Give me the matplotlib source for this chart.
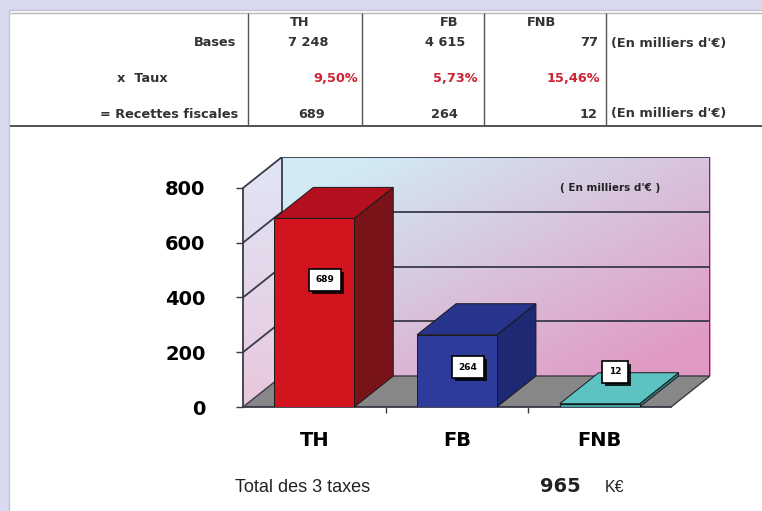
import numpy as np
import matplotlib
matplotlib.use("Agg")
import matplotlib.pyplot as plt
import matplotlib.patheffects as pe
from matplotlib.patches import Polygon, Rectangle

# data
taxes = ["TH", "FB", "FNB"]
bases = [7248, 4615, 77]            # en milliers d'euros
taux = [9.50, 5.73, 15.46]          # %
recettes = [689, 264, 12]           # en milliers d'euros
yticks = [0, 200, 400, 600, 800]

# styles
front_cols = ["#d2141f", "#2d3c9b", "#3aa2a2"]
top_cols = ["#b40f1e", "#28348c", "#5cc2c2"]
side_cols = ["#781419", "#1e2873", "#2f8080"]
label_pos = [(0.575, 464), (1.577, 146), (2.607, 128)]
grid_col = "#3a3a48"

fig = plt.figure(figsize=(7.62, 5.11), dpi=100)
fig.patch.set_facecolor("#d9d9ef")

# background axes in pixel coords (panel + table)
bg = fig.add_axes([0, 0, 1, 1])
bg.set_xlim(0, 762)
bg.set_ylim(511, 0)
bg.axis("off")
bg.add_patch(Rectangle((9, 10), 760, 510, fc="white", ec="#c4c4d4", lw=1))

bg.hlines(13, 10, 762, color="#b8b8b8", lw=1)
bg.hlines(126, 10, 762, color="#444444", lw=1.3)
bg.vlines([248, 362, 484, 606], 13, 126, color="#555555", lw=1)

tkw = dict(fontsize=9.3, fontweight="bold", color="#333333", va="center",
           family="DejaVu Sans")
rows_y = [22, 43, 79, 114]
bg.text(236, rows_y[1], "Bases", ha="right", **tkw)
bg.text(142, rows_y[2], "x  Taux", ha="center", **tkw)
bg.text(238, rows_y[3], "= Recettes fiscales", ha="right", **tkw)
bg.text(611, rows_y[1], "(En milliers d'€)", ha="left", **tkw)
bg.text(611, rows_y[3], "(En milliers d'€)", ha="left", **tkw)

head_x = [290, 440, 527]
base_x = [328, 465, 598]
taux_x = [358, 478, 600]
rec_x = [325, 458, 598]
for i, t in enumerate(taxes):
    bg.text(head_x[i], rows_y[0], t, ha="left", **tkw)
    bg.text(base_x[i], rows_y[1], f"{bases[i]:,}".replace(",", " "), ha="right", **tkw)
    kw = dict(tkw)
    kw["color"] = "#cc2233"
    bg.text(taux_x[i], rows_y[2], f"{taux[i]:.2f}%".replace(".", ","), ha="right", **kw)
    bg.text(rec_x[i], rows_y[3], str(recettes[i]), ha="right", **tkw)

# 3D-looking bar chart
dx, dy = 0.273, 113.2
ax = fig.add_axes([243 / 762, 104 / 511, 467 / 762, 250 / 511])
ax.set_xlim(0, 3 + dx)
ax.set_ylim(0, 800 + dy)
ax.patch.set_alpha(0)

# back wall gradient
n = 60
gx, gy = np.meshgrid(np.linspace(0, 1, n), np.linspace(1, 0, n))
t = np.clip(0.6 * gx + 0.6 * (1 - gy) - 0.12, 0, 1)[..., None]
c0 = np.array([0.82, 0.92, 0.96])
c1 = np.array([0.88, 0.60, 0.76])
ax.imshow(c0 * (1 - t) + c1 * t, extent=(dx, 3 + dx, dy, 800 + dy),
          aspect="auto", zorder=0)

# left wall gradient
lw_poly = Polygon([(0, 0), (0, 800), (dx, 800 + dy), (dx, dy)], closed=True,
                  fc="none", ec="none")
ax.add_patch(lw_poly)
t2 = np.clip(1 - gy, 0, 1)[..., None]
im2 = ax.imshow(np.array([0.88, 0.90, 0.96]) * (1 - t2) + np.array([0.91, 0.78, 0.87]) * t2,
                extent=(0, dx, 0, 800 + dy), aspect="auto", zorder=0)
im2.set_clip_path(lw_poly)

# floor
ax.add_patch(Polygon([(0, 0), (3, 0), (3 + dx, dy), (dx, dy)], closed=True,
                     fc="#878787", ec=grid_col, lw=1, zorder=1))

# gridlines on walls
for v in yticks[1:]:
    ax.plot([dx, 3 + dx], [v + dy, v + dy], color=grid_col, lw=1.3, zorder=1)
    ax.plot([0, dx], [v, v + dy], color=grid_col, lw=1.3, zorder=1)
ax.plot([dx, dx], [dy, 800 + dy], color=grid_col, lw=1.3, zorder=1)
ax.plot([3 + dx, 3 + dx], [dy, 800 + dy], color=grid_col, lw=1.3, zorder=1)

# bars
w = 0.56
for i, v in enumerate(recettes):
    c = i + 0.5
    x0, x1 = c - w / 2, c + w / 2
    ax.add_patch(Polygon([(x1, 0), (x1 + dx, dy), (x1 + dx, v + dy), (x1, v)],
                         fc=side_cols[i], ec="#1a1a1a", lw=0.7, zorder=3))
    ax.add_patch(Polygon([(x0, v), (x1, v), (x1 + dx, v + dy), (x0 + dx, v + dy)],
                         fc=top_cols[i], ec="#1a1a1a", lw=0.7, zorder=3))
    ax.add_patch(Rectangle((x0, 0), w, v, fc=front_cols[i], ec="#1a1a1a",
                           lw=0.7, zorder=3))
    lx, ly = label_pos[i]
    txt = ax.text(lx, ly, str(v), ha="center", va="center", fontsize=6.5,
                  fontweight="bold", zorder=5,
                  bbox=dict(boxstyle="square,pad=0.7", fc="white", ec="black", lw=1.2))
    txt.get_bbox_patch().set_path_effects(
        [pe.SimplePatchShadow(offset=(2.2, -2.2), shadow_rgbFace="black", alpha=0.85),
         pe.Normal()])

# axes / ticks
for s in ["top", "right"]:
    ax.spines[s].set_visible(False)
ax.spines["left"].set_bounds(0, 800)
ax.spines["bottom"].set_bounds(0, 3)
for s in ["left", "bottom"]:
    ax.spines[s].set_color(grid_col)
    ax.spines[s].set_linewidth(1.3)
    ax.spines[s].set_zorder(2)
ax.set_yticks(yticks)
ax.set_yticklabels([str(v) for v in yticks], fontsize=14, fontweight="bold",
                   family="DejaVu Sans")
ax.tick_params(axis="y", length=5, width=1, color=grid_col, pad=22)
ax.set_xticks([0.5, 1.5, 2.5])
ax.set_xticklabels(taxes, fontsize=14, fontweight="bold", family="DejaVu Sans")
ax.tick_params(axis="x", which="major", length=0, pad=17)
ax.set_xticks([1, 2], minor=True)
ax.tick_params(axis="x", which="minor", length=4, width=1, color=grid_col)

ax.text(2.57, 800, "( En milliers d'€ )", ha="center", va="center",
        fontsize=7.5, fontweight="bold", color="#222222")

# total line
bg.text(235, 488, "Total des 3 taxes", ha="left", va="center",
        fontsize=13, family="Liberation Sans", color="#222222")
bg.text(560, 486, str(sum(recettes)), ha="center", va="center",
        fontsize=14, fontweight="bold", family="DejaVu Sans", color="#222222")
bg.text(605, 488, "K€", ha="left", va="center",
        fontsize=11.5, family="Liberation Sans", color="#222222")

fig.savefig("out.png", dpi=100)
